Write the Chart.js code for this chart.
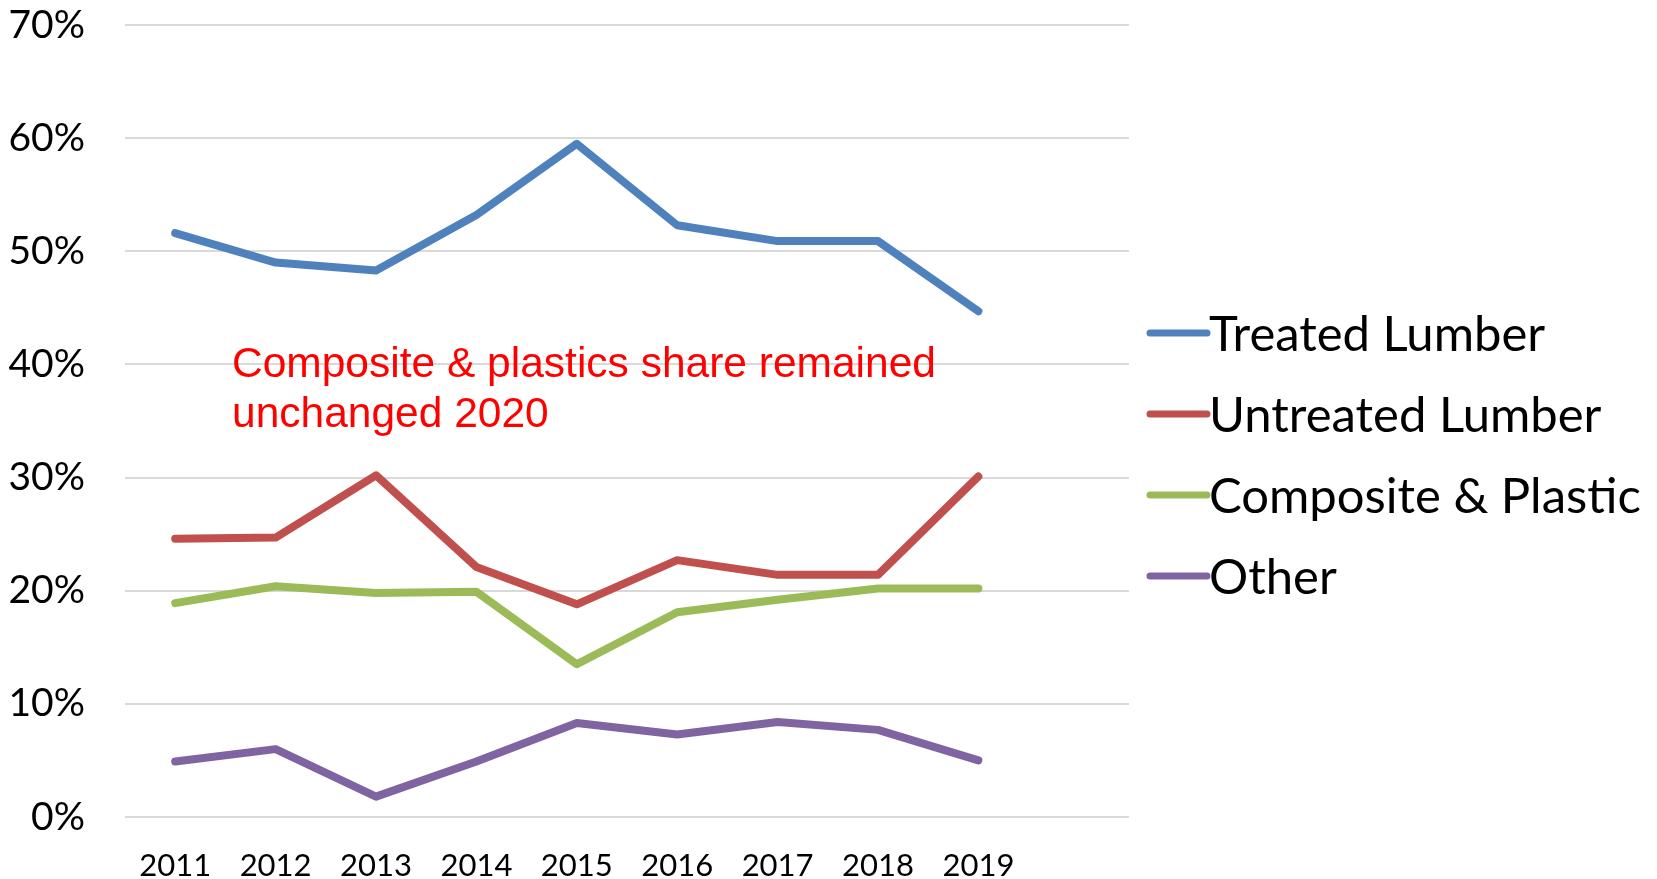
<!DOCTYPE html>
<html>
<head>
<meta charset="utf-8">
<script src="https://cdn.jsdelivr.net/npm/chart.js@4/dist/chart.umd.min.js"></script>
<style>
  html, body { margin: 0; padding: 0; background: #fff; }
  #wrap { width: 1657px; height: 879px; }
</style>
</head>
<body>
<div id="wrap"><canvas id="chart"></canvas></div>
<script>
// data (percent)
const years = ['2011', '2012', '2013', '2014', '2015', '2016', '2017', '2018', '2019']
const treated = [51.6, 49.0, 48.3, 53.2, 59.5, 52.3, 50.9, 50.9, 44.7]
const untreated = [24.6, 24.7, 30.2, 22.1, 18.8, 22.7, 21.4, 21.4, 30.1]
const composite = [18.9, 20.4, 19.8, 19.9, 13.5, 18.1, 19.2, 20.2, 20.2]
const other = [4.9, 6.0, 1.8, 4.9, 8.3, 7.3, 8.4, 7.7, 5.0]
const seriesNames = ['Treated Lumber', 'Untreated Lumber', 'Composite & Plastic', 'Other']
const seriesColors = ['#4F81BD', '#C0504D', '#9BBB59', '#8064A2']
const yTicks = [0, 10, 20, 30, 40, 50, 60, 70]
const note = ['Composite & plastics share remained', 'unchanged 2020']

// one empty slot after 2019, like the original axis
const labels = years.concat([''])

const makeSet = (i, values) => ({
  label: seriesNames[i],
  data: values,
  borderColor: seriesColors[i],
  backgroundColor: seriesColors[i],
  borderWidth: 8,
  borderCapStyle: 'round',
  borderJoinStyle: 'round',
  pointRadius: 0,
  tension: 0,
  fill: false,
})

// legend + red note drawn on the canvas
const sideLegend = {
  id: 'sideLegend',
  afterDraw(chart) {
    const ctx = chart.ctx
    const area = chart.chartArea
    ctx.save()
    const x0 = area.right + 21
    chart.data.datasets.forEach((ds, i) => {
      const y = 333 + i * 81
      ctx.strokeStyle = ds.borderColor
      ctx.lineWidth = 7
      ctx.lineCap = 'round'
      ctx.beginPath()
      ctx.moveTo(x0, y)
      ctx.lineTo(x0 + 57, y)
      ctx.stroke()
      ctx.fillStyle = '#000'
      ctx.font = '49px Lato'
      ctx.textBaseline = 'alphabetic'
      ctx.textAlign = 'left'
      ctx.fillText(ds.label, x0 + 59, y + 18)
    })
    ctx.fillStyle = '#FF0000'
    ctx.font = '42.5px "Liberation Sans", Arial'
    note.forEach((line, i) => {
      ctx.fillText(line, area.left + 107, 377 + i * 50)
    })
    ctx.restore()
  },
}

new Chart(document.getElementById('chart'), {
  type: 'line',
  data: {
    labels: labels,
    datasets: [
      makeSet(0, treated),
      makeSet(1, untreated),
      makeSet(2, composite),
      makeSet(3, other),
    ],
  },
  options: {
    responsive: true,
    maintainAspectRatio: false,
    animation: false,
    layout: { padding: { left: 0, top: 25, right: 528, bottom: 0 } },
    plugins: {
      legend: { display: false },
      tooltip: { enabled: false },
    },
    scales: {
      x: {
        offset: true,
        grid: { display: false, drawTicks: false },
        border: { display: false },
        ticks: {
          color: '#000',
          font: { family: 'Lato', size: 31 },
          padding: 30,
          maxRotation: 0,
          autoSkip: false,
        },
        afterFit: (scale) => {
          scale.height = 62
          scale.paddingLeft = 0
          scale.paddingRight = 0
        },
      },
      y: {
        min: 0,
        max: 70,
        afterBuildTicks: (scale) => { scale.ticks = yTicks.map(v => ({ value: v })) },
        grid: { color: '#D9D9D9', lineWidth: 2, drawTicks: false },
        border: { display: false },
        ticks: {
          color: '#000',
          font: { family: 'Lato', size: 39 },
          padding: 40,
          callback: (v) => v + '%',
        },
        afterFit: (scale) => {
          scale.width = 125
          scale.paddingTop = 0
          scale.paddingBottom = 0
        },
      },
    },
  },
  plugins: [sideLegend],
})
</script>
</body>
</html>
